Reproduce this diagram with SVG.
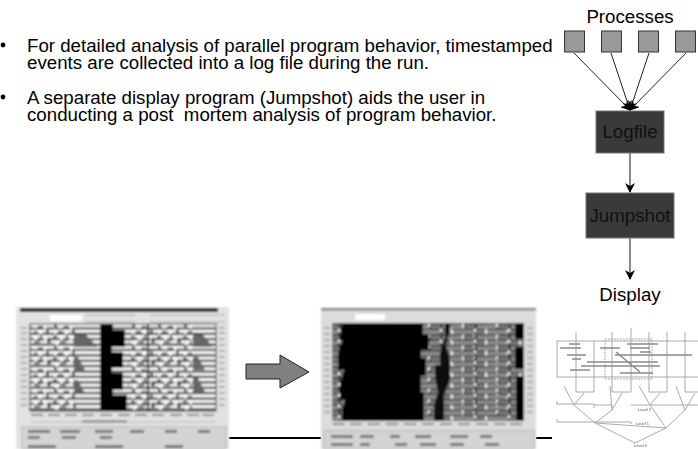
<svg xmlns="http://www.w3.org/2000/svg" width="698" height="449" viewBox="0 0 698 449">
<style>
text{font-family:"Liberation Sans",Arial,sans-serif;fill:#000}
.b,.l,.d{font-size:18.7px}
.l,.d{text-anchor:middle}
.d{fill:#111}
.p{fill:#999;stroke:#333;stroke-width:1}
.n{fill:#3a3a3a;stroke:#777;stroke-width:1}
.c{stroke:#222;stroke-width:1;fill:none;marker-end:url(#a)}
.v{stroke:#555;stroke-width:1.400;fill:none;marker-end:url(#a)}
.t{fill:none;stroke:#aaa;stroke-width:1}
.t2{fill:none;stroke:#8a8a8a;stroke-width:1.6}
.s{font-size:4px;fill:#555}
</style>
<defs>
<marker id="a" viewBox="0 0 10 10" refX="9" refY="5" markerWidth="10" markerHeight="10" orient="auto" markerUnits="userSpaceOnUse"><path d="M0 0L10 5L0 10L3 5Z" fill="#000"/></marker>
<filter id="bl" x="-5%" y="-5%" width="110%" height="110%"><feGaussianBlur stdDeviation="0.8"/></filter>
<filter id="bt" x="-5%" y="-5%" width="110%" height="110%"><feGaussianBlur stdDeviation="0.6"/></filter>
<pattern id="r1" width="60" height="5.400" patternUnits="userSpaceOnUse"><rect width="60" height="5.400" fill="#f8f8f8"/><rect y="3.400" width="60" height="2" fill="#222"/></pattern>
<pattern id="sp" width="26" height="21.600" patternUnits="userSpaceOnUse"><path d="M2 0h3v3h-3zM12 2h5v2h-5zM20 6h3v5h-3zM6 7h5v3h-5zM1 12h4v4h-4zM14 11h2v6h-2zM8 17h6v2h-6zM21 16h4v3h-4z" fill="#555"/><path d="M7 1h3v3h-3zM18 1h2v4h-2zM2 6h2v4h-2zM13 6h3v4h-3zM8 12h3v4h-3zM18 12h3v4h-3zM3 17h3v4h-3z" fill="#fff"/></pattern>
<pattern id="br" width="34" height="10.800" patternUnits="userSpaceOnUse"><rect width="34" height="10.800" fill="#222"/><rect x="1" y=".5" width="20" height="4.400" fill="#8c8c8c"/><rect x="23" y=".5" width="10" height="4.400" fill="#777"/><rect x="0" y="5.900" width="9" height="4.400" fill="#777"/><rect x="11" y="5.900" width="21" height="4.400" fill="#8c8c8c"/><path d="M20 0h2v3h-2zM9 6h2v4h-2zM32 5h2v3h-2z" fill="#f4f4f4"/></pattern>
</defs>
<g id="text">
<circle cx="3" cy="45" r="2.400"/><text class="b" x="27" y="52">For detailed analysis of parallel program behavior, timestamped</text>
<text class="b" x="27" y="69">events are collected into a log file during the run.</text>
<circle cx="3" cy="97" r="2.400"/><text class="b" x="27" y="104">A separate display program (Jumpshot) aids the user in</text>
<text class="b" x="27" y="121">conducting a post&#160; mortem analysis of program behavior.</text>
</g>
<g id="connectors">
<path class="c" d="M574 53L630 110"/><path class="c" d="M611 53L630 110"/><path class="c" d="M649 53L630 110"/><path class="c" d="M686 53L630 110"/>
<path class="v" d="M630 153V192"/><path class="v" d="M630 238V279"/>
<path d="M229 438H321M536 438H552" stroke="#000" stroke-width="2" fill="none"/>
</g>
<g id="processes"><text class="l" x="630" y="23">Processes</text></g>
<g id="p1"><rect class="p" x="564.500" y="31" width="20" height="21"/></g>
<g id="p2"><rect class="p" x="601.500" y="31" width="20" height="21"/></g>
<g id="p3"><rect class="p" x="638.500" y="31" width="20" height="21"/></g>
<g id="p4"><rect class="p" x="675.500" y="31" width="20" height="21"/></g>
<g id="logfile"><rect class="n" x="596" y="111" width="68" height="42"/><text class="d" x="630" y="138">Logfile</text></g>
<g id="jumpshot"><rect class="n" x="586" y="193" width="88" height="45"/><text class="d" x="630" y="222">Jumpshot</text></g>
<g id="display"><text class="l" x="630" y="301">Display</text></g>
<g id="shot1" filter="url(#bl)">
<rect x="16" y="307" width="213" height="142" fill="#e2e2e2"/>
<rect x="20" y="308" width="198" height="4" fill="#111"/>
<rect x="50" y="315" width="32" height="6" fill="#fff"/>
<path d="M85 315h50M85 322h50M150 315h75M150 322h75" stroke="#aaa"/>
<rect x="30" y="324" width="186" height="87" fill="url(#r1)"/>
<rect x="34" y="324" width="42" height="87" fill="url(#sp)"/>
<rect x="128" y="324" width="18" height="87" fill="url(#sp)"/>
<rect x="150" y="324" width="42" height="87" fill="url(#sp)"/>
<path d="M74 335H86L98 347H74ZM74 357H78L86 372H74ZM74 380H78L84 392H74ZM193 335H203L213 347H193ZM193 357H198L205 370H193ZM193 378H198L205 392H193Z" fill="#666"/>
<path d="M100 324H113V330H125V347H112V352H123V368H112V373H123V390H113V395H127V411H100Z" fill="#000"/>
<rect x="147" y="324" width="2" height="87" fill="#111"/>
<rect x="30" y="324" width="186" height="87" fill="none" stroke="#333"/>
<path d="M21 328h6M21 333h6M21 339h6M21 345h6M21 351h6M21 357h6M21 363h6M21 369h6M21 375h6M21 381h6M21 387h6M21 393h6M21 399h6M21 405h6M219 328h6M219 333h6M219 339h6M219 345h6M219 351h6M219 357h6M219 363h6M219 369h6M219 375h6M219 381h6M219 387h6M219 393h6M219 399h6M219 405h6" stroke="#999" stroke-width="1.500"/>
<path d="M31 415h12M48 415h12M65 415h12M82 415h12M100 415h12M118 415h12M135 415h12M152 415h12M170 415h12M187 415h12M202 415h12" stroke="#888" stroke-width="2"/>
<rect x="30" y="421" width="186" height="2" fill="#ccc"/><rect x="82" y="420" width="45" height="3" fill="#999"/>
<rect x="22" y="427" width="204" height="22" fill="#d4d4d4" stroke="#b4b4b4"/>
<path d="M28 430h22v3h-22zM60 430h20v3h-20zM95 430h18v3h-18zM130 430h14v3h-14zM165 430h12v3h-12zM198 430h12v3h-12zM28 436h12v3h-12zM62 436h14v3h-14zM100 436h12v3h-12zM28 445h28v3h-28zM95 445h28v3h-28zM165 445h18v3h-18z" fill="#777"/>
</g>
<g id="arrow"><path d="M246 364H280V355L309 372L280 388V379H246Z" fill="#808080" stroke="#222" stroke-width="1"/></g>
<g id="shot2" filter="url(#bl)">
<rect x="321" y="308" width="215" height="141" fill="#dcdcdc"/>
<rect x="321" y="308" width="215" height="2.500" fill="#888"/>
<rect x="355" y="314" width="30" height="6" fill="#fff"/>
<rect x="332" y="323" width="192" height="98" fill="url(#br)"/>
<path d="M342 323H423V334H429V350H421V358H426V376H421V392H424V421H342V410L345 400H340V385L344 370H338V352L343 340H340Z" fill="#000"/>
<path d="M438 323H445V338L440 352V365H435V378L438 392L434 405V421H444V395L450 380V360L446 345L450 330V323Z" fill="#111"/>
<rect x="515" y="323" width="9" height="16" fill="#000"/><rect x="515" y="347" width="9" height="22" fill="#000"/><rect x="516" y="376" width="8" height="45" fill="#000"/>
<path d="M451 328v90M463 326v90M474 334v82M486 328v88M497 338v76M507 330v84" stroke="#eee" stroke-width="1.200" stroke-dasharray="3 8"/>
<path d="M324 328h6M324 334h6M324 340h6M324 346h6M324 352h6M324 358h6M324 364h6M324 370h6M324 376h6M324 382h6M324 388h6M324 394h6M324 400h6M324 406h6M324 412h6M527 328h6M527 334h6M527 340h6M527 346h6M527 352h6M527 358h6M527 364h6M527 370h6M527 376h6M527 382h6M527 388h6M527 394h6M527 400h6M527 406h6M527 412h6" stroke="#999" stroke-width="1.500"/>
<path d="M333 424h12M350 424h12M368 424h12M386 424h12M404 424h12M422 424h12M440 424h12M458 424h12M476 424h12M494 424h12M510 424h12" stroke="#888" stroke-width="2"/>
<rect x="324" y="431" width="210" height="18" fill="#d4d4d4" stroke="#b4b4b4"/>
<path d="M331 435h22v3h-22zM360 435h14v3h-14zM390 435h10v3h-10zM415 435h16v3h-16zM450 435h18v3h-18zM480 435h12v3h-12zM331 443h22v3h-22zM360 443h10v3h-10zM395 443h12v3h-12zM420 443h16v3h-16zM450 443h14v3h-14zM485 443h14v3h-14z" fill="#777"/>
</g>
<g id="tree" filter="url(#bt)">
<path class="t" d="M557 341H698M557 377V341M557 377H698M576 332V392M594 341V392M612 332V392M631 328V392M649 332V392M667 332V392M685 332V392M576 392H594M612 392H631M649 392H667M685 392H698"/>
<path class="t" stroke-dasharray="2 1" d="M605 339H652V379H605Z"/>
<path class="t" d="M557 404H594M557 405V401M594 404V408M594 405H612V408M631 405H667M667 405H698M557 422H631M631 422V424M557 422V419"/>
<path class="t" d="M564 386L574 405L584 393M574 405L595 423M610 386L612 410L622 393M612 410L595 423L666 428M639 386L650 405L660 393M650 405L666 428M676 386L685 410L695 393M685 410L666 428M595 423L635 443L666 428"/>
<path class="t2" d="M569 344H580M560 348H581M567 355H586M572 359H581M570 370H590M581 366H660M587 362H658M600 348H620M630 348H650M640 352H651M615 355H692M616 352L640 372M620 373H653M627 344H658"/>
<text class="s" x="638" y="411">Level 3</text><text class="s" x="636" y="425" fill="#aaa">Level 1</text><text class="s" x="634" y="447">Level 0</text>
</g>
</svg>
